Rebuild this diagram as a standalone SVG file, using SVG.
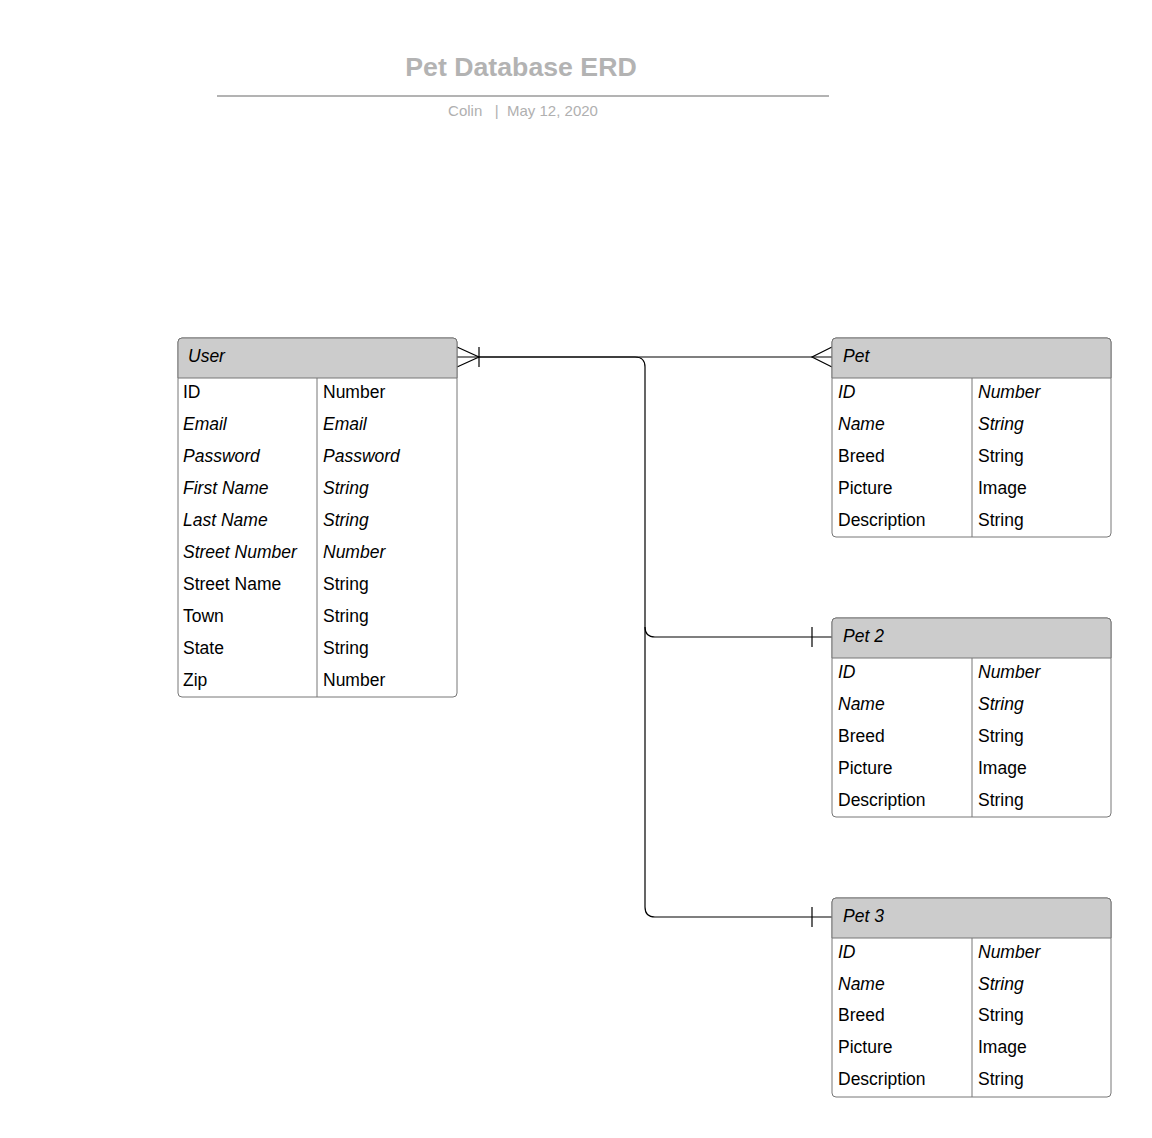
<svg xmlns="http://www.w3.org/2000/svg" width="1152" height="1138" viewBox="0 0 1152 1138">
<style>
text{font-family:"Liberation Sans",Arial,sans-serif;}
.t{font-size:17.5px;fill:#000;}
.i{font-style:italic;}
.hd{font-size:17.5px;font-style:italic;fill:#000;}
.box{fill:#fff;stroke:#777;stroke-width:1;}
.head{fill:#ccc;stroke:#777;stroke-width:1;}
.dv{stroke:#777;stroke-width:1;}
.c{fill:none;stroke:#000;stroke-width:1.2;}
</style>
<rect width="1152" height="1138" fill="#fff"/>
<g id="title">
<text x="521" y="76" text-anchor="middle" font-size="26.7" font-weight="bold" fill="#b3b3b3">Pet Database ERD</text>
<line x1="217" y1="96" x2="829" y2="96" stroke="#b3b3b3" stroke-width="2"/>
<text x="523" y="116" text-anchor="middle" font-size="15" fill="#b0b0b0" xml:space="preserve">Colin   |  May 12, 2020</text>
</g>
<g id="connectors">
<path class="c" d="M457,357 H832"/>
<path class="c" d="M457,347 L479,357 L457,367 M479,347 V367"/>
<path class="c" d="M832,347 L812,357 L832,367"/>
<path class="c" d="M479,357 H635 Q645,357 645,367 V627 Q645,637 655,637 H832"/>
<path class="c" d="M645,627 V907 Q645,917 655,917 H832"/>
<path class="c" d="M812,627 V647 M812,907 V927"/>
</g>
<g id="user">
<rect class="box" x="178" y="338" width="279" height="359" rx="4"/>
<path class="head" d="M178,378 V342 Q178,338 182,338 H453 Q457,338 457,342 V378 Z"/>
<line class="dv" x1="317" y1="378" x2="317" y2="697"/>
<text class="hd" x="188" y="362">User</text>
<text class="t" x="183" y="398">ID</text><text class="t" x="323" y="398">Number</text>
<text class="t i" x="183" y="430">Email</text><text class="t i" x="323" y="430">Email</text>
<text class="t i" x="183" y="462">Password</text><text class="t i" x="323" y="462">Password</text>
<text class="t i" x="183" y="494">First Name</text><text class="t i" x="323" y="494">String</text>
<text class="t i" x="183" y="526">Last Name</text><text class="t i" x="323" y="526">String</text>
<text class="t i" x="183" y="558">Street Number</text><text class="t i" x="323" y="558">Number</text>
<text class="t" x="183" y="590">Street Name</text><text class="t" x="323" y="590">String</text>
<text class="t" x="183" y="622">Town</text><text class="t" x="323" y="622">String</text>
<text class="t" x="183" y="654">State</text><text class="t" x="323" y="654">String</text>
<text class="t" x="183" y="686">Zip</text><text class="t" x="323" y="686">Number</text>
</g>
<g id="pet">
<rect class="box" x="832" y="338" width="279" height="199" rx="4"/>
<path class="head" d="M832,378 V342 Q832,338 836,338 H1107 Q1111,338 1111,342 V378 Z"/>
<line class="dv" x1="972" y1="378" x2="972" y2="537"/>
<text class="hd" x="843" y="362">Pet</text>
<text class="t i" x="838" y="398">ID</text><text class="t i" x="978" y="398">Number</text>
<text class="t i" x="838" y="430">Name</text><text class="t i" x="978" y="430">String</text>
<text class="t" x="838" y="462">Breed</text><text class="t" x="978" y="462">String</text>
<text class="t" x="838" y="494">Picture</text><text class="t" x="978" y="494">Image</text>
<text class="t" x="838" y="526">Description</text><text class="t" x="978" y="526">String</text>
</g>
<g id="pet2">
<rect class="box" x="832" y="618" width="279" height="199" rx="4"/>
<path class="head" d="M832,658 V622 Q832,618 836,618 H1107 Q1111,618 1111,622 V658 Z"/>
<line class="dv" x1="972" y1="658" x2="972" y2="817"/>
<text class="hd" x="843" y="642">Pet 2</text>
<text class="t i" x="838" y="678">ID</text><text class="t i" x="978" y="678">Number</text>
<text class="t i" x="838" y="710">Name</text><text class="t i" x="978" y="710">String</text>
<text class="t" x="838" y="742">Breed</text><text class="t" x="978" y="742">String</text>
<text class="t" x="838" y="774">Picture</text><text class="t" x="978" y="774">Image</text>
<text class="t" x="838" y="806">Description</text><text class="t" x="978" y="806">String</text>
</g>
<g id="pet3">
<rect class="box" x="832" y="898" width="279" height="199" rx="4"/>
<path class="head" d="M832,938 V902 Q832,898 836,898 H1107 Q1111,898 1111,902 V938 Z"/>
<line class="dv" x1="972" y1="938" x2="972" y2="1097"/>
<text class="hd" x="843" y="922">Pet 3</text>
<text class="t i" x="838" y="958">ID</text><text class="t i" x="978" y="958">Number</text>
<text class="t i" x="838" y="990">Name</text><text class="t i" x="978" y="990">String</text>
<text class="t" x="838" y="1021">Breed</text><text class="t" x="978" y="1021">String</text>
<text class="t" x="838" y="1053">Picture</text><text class="t" x="978" y="1053">Image</text>
<text class="t" x="838" y="1085">Description</text><text class="t" x="978" y="1085">String</text>
</g>
</svg>
